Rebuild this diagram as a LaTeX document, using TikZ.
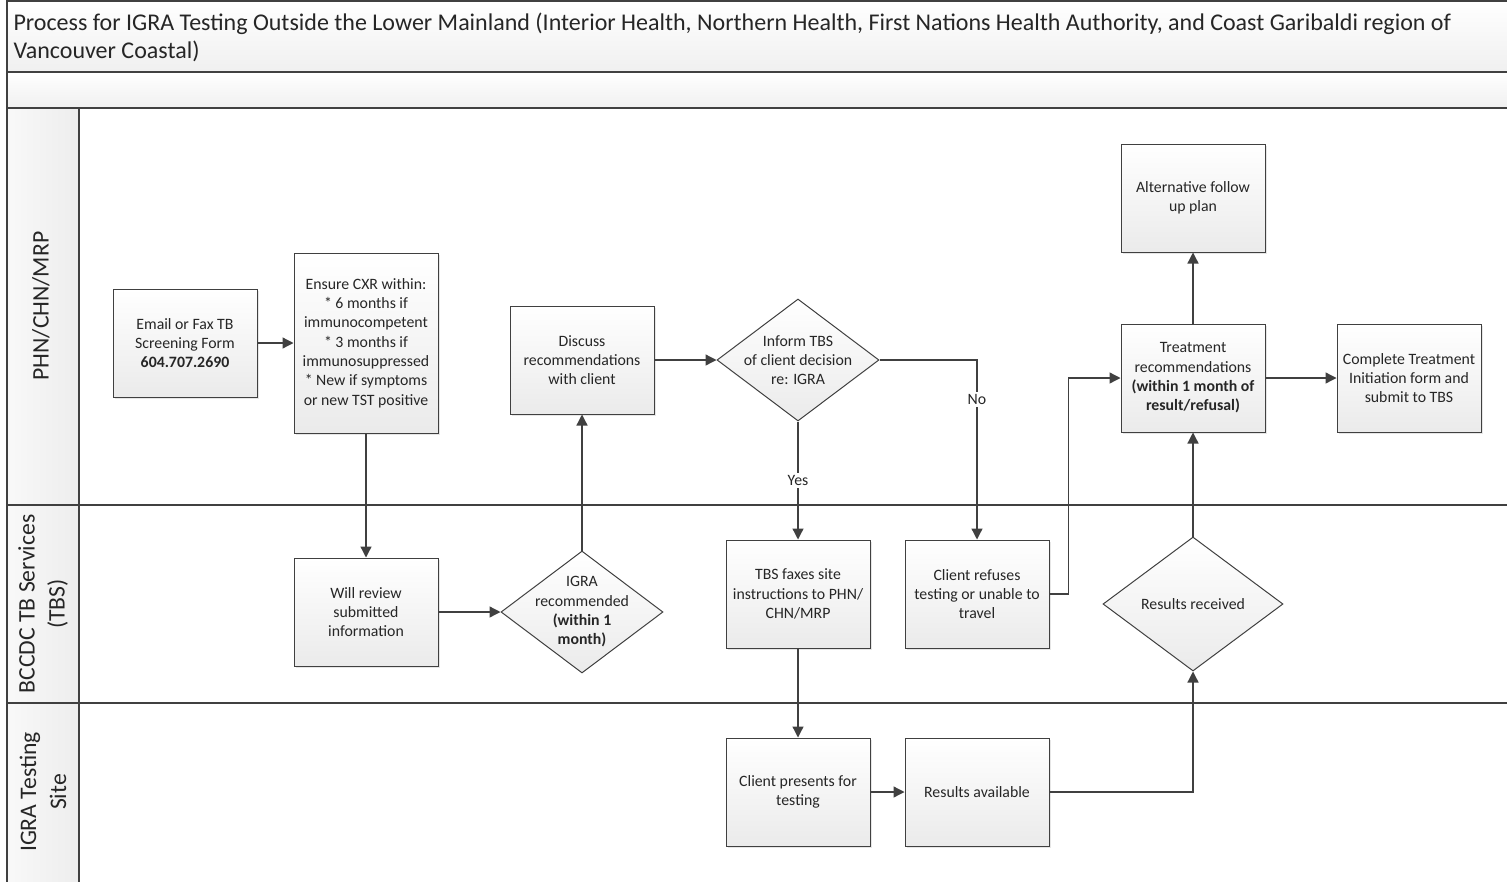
\documentclass[tikz,border=0pt]{standalone}
\usepackage{fontspec}
\setmainfont{Carlito}
\usetikzlibrary{arrows.meta,shapes.geometric,shadows}

\definecolor{linegray}{HTML}{404040}
\definecolor{textgray}{HTML}{262626}

\tikzset{
  lane/.style={draw=linegray, line width=1.2pt},
  lanelabel/.style={rotate=90, align=center, text=textgray, font=\fontsize{23.7}{30}\selectfont},
  procbox/.style={draw=linegray, line width=1pt, top color=white, bottom color=gray!16,
    minimum width=144pt, minimum height=108pt, align=center, text=textgray, inner sep=2pt,
    font=\fontsize{15.8}{19.3}\selectfont, drop shadow={opacity=0.2, shadow xshift=2pt, shadow yshift=-2pt}},
  decision/.style={diamond, draw=linegray, line width=1pt, top color=white, bottom color=gray!16,
    inner sep=0pt, minimum width=162pt, minimum height=122pt,
    label={[align=center, text=textgray, font=\fontsize{15.8}{19.3}\selectfont]center:#1}},
  flow/.style={draw=linegray, line width=1.3pt, -{Triangle[length=11pt,width=11pt]}},
  flowlabel/.style={fill=white, inner sep=2pt, text=textgray, font=\fontsize{15.8}{19.3}\selectfont}
}

\begin{document}
\begin{tikzpicture}[x=1pt,y=-1pt]
\clip (0,0) rectangle (1507,881);

% Pool and lanes
\draw[lane, top color=white, bottom color=gray!12] (7,1) rectangle (1512,72);
\draw[lane, top color=white, bottom color=gray!12] (7,72) rectangle (1512,108);
\foreach \ytop/\ybot in {108/505, 505/703, 703/890} {
  \draw[lane] (7,\ytop) rectangle (1512,\ybot);
  \draw[lane, left color=gray!5, right color=gray!14] (7,\ytop) rectangle (79,\ybot);
}

\node[anchor=north west, align=left, text=textgray, font=\fontsize{24}{28}\selectfont] (title) at (10,9)
  {Process for IGRA Testing Outside the Lower Mainland (Interior Health, Northern Health, First Nations Health Authority, and Coast Garibaldi region of\\Vancouver Coastal)};

\node[lanelabel] (lanephn) at (41,306) {PHN/CHN/MRP};
\node[lanelabel] (lanetbs) at (43,604) {BCCDC TB Services\\(TBS)};
\node[lanelabel] (lanesite) at (43,792) {IGRA Testing\\Site};

% Steps
\node[procbox] (email) at (185,343) {Email or Fax TB\\Screening Form\\\textbf{604.707.2690}};
\node[procbox, minimum height=180pt] (ensure) at (366,343) {Ensure CXR within:\\* 6 months if\\immunocompetent\\* 3 months if\\immunosuppressed\\* New if symptoms\\or new TST positive};
\node[procbox] (review) at (366,612) {Will review\\submitted\\information};
\node[decision={IGRA\\recommended\\\textbf{(within 1}\\\textbf{month)}}] (igra) at (582,612) {};
\node[procbox] (discuss) at (582,360) {Discuss\\recommendations\\with client};
\node[decision={Inform TBS\\of client decision\\re: IGRA}] (inform) at (798,360) {};
\node[procbox] (faxes) at (798,594) {TBS faxes site\\instructions to PHN/\\CHN/MRP};
\node[procbox] (refuses) at (977,594) {Client refuses\\testing or unable to\\travel};
\node[procbox] (presents) at (798,792) {Client presents for\\testing};
\node[procbox] (available) at (977,792) {Results available};
\node[decision={Results received}, minimum width=180pt, minimum height=134pt] (results) at (1193,604) {};
\node[procbox] (treatment) at (1193,378) {Treatment\\recommendations\\\textbf{(within 1 month of}\\\textbf{result/refusal)}};
\node[procbox] (alternative) at (1193,198) {Alternative follow\\up plan};
\node[procbox] (complete) at (1409,378) {Complete Treatment\\Initiation form and\\submit to TBS};

% Connectors
\draw[flow] (email) -- (ensure);
\draw[flow] (ensure) -- (review);
\draw[flow] (review) -- (igra);
\draw[flow] (igra) -- (discuss);
\draw[flow] (discuss) -- (inform);
\draw[flow] (inform) -- node[flowlabel] {Yes} (faxes);
\draw[flow] (inform.east) -| node[flowlabel, pos=0.61] {No} (refuses.north);
\draw[flow] (faxes) -- (presents);
\draw[flow] (presents) -- (available);
\draw[flow] (available.east) -| (results.south);
\draw[flow] (results) -- (treatment);
\draw[flow] (refuses.east) -- ++(19,0) |- (treatment.west);
\draw[flow] (treatment) -- (alternative);
\draw[flow] (treatment) -- (complete);

\end{tikzpicture}
\end{document}
